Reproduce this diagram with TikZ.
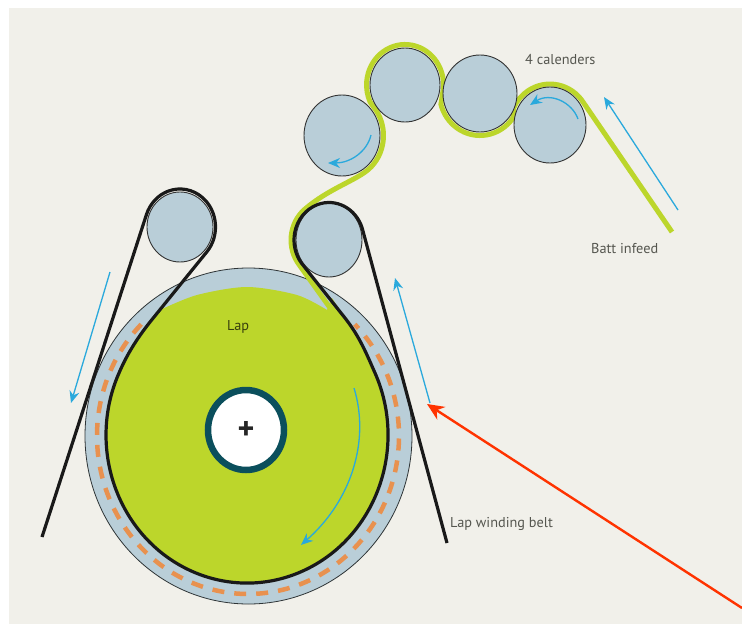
\documentclass[tikz,border=0pt]{standalone}
\usepackage{fontspec}
\setmainfont{PT Sans}
\usetikzlibrary{arrows.meta}
\definecolor{pagecol}{HTML}{F1F0EA}
\definecolor{rollcol}{HTML}{B9CED8}
\definecolor{lapcol}{HTML}{BCD62B}
\definecolor{hubcol}{HTML}{0B4F5C}
\definecolor{bluecol}{HTML}{2AA9DC}
\definecolor{orangecol}{HTML}{E8914F}
\definecolor{redcol}{HTML}{FF3300}
\definecolor{textcol}{HTML}{55564F}
\tikzset{
	roller/.style={fill=rollcol,draw=black!80,line width=0.9pt},
	belt/.style={draw=black!90,line width=3.2pt,line join=round},
	batt/.style={draw=lapcol,line width=5pt,line join=round},
	turn/.style={draw=bluecol,line width=1.3pt,-{Stealth[length=12pt,width=10pt]}},
	lbl/.style={text=textcol,font=\fontsize{14.3}{16}\selectfont,inner sep=0pt}
}
\begin{document}
\begin{tikzpicture}[x=1pt,y=-1pt,>=stealth]
			\useasboundingbox (0,0) rectangle (742,624);
			\fill[white] (0,0) rectangle (742,624);
			\fill[pagecol] (9,8) rectangle (742,624);
			% lap on the ring
			\draw[fill=rollcol,draw=black!75!rollcol,line width=0.8pt] (248.5,436) ellipse[x radius=163.5,y radius=168];
			\fill[lapcol] (345,318) .. controls (360,337) and (367,355) .. (374.8,372.5)
				arc[start angle=-25,end angle=205,x radius=141,y radius=148]
				.. controls (128,352) and (139,336) .. (150,322)
				-- (160,310) -- plot[smooth] coordinates {(160,310) (197,295) (247,287) (297,295) (327,310)} -- (332,298) -- cycle;
			\draw[orangecol,line width=4.5pt,dash pattern=on 12pt off 10pt] plot[smooth,domain=225:-45,samples=80] ({248+151*cos(\x)},{436+158*sin(\x)});
			\draw[line width=6.5pt,draw=hubcol,fill=white] (246,430) ellipse[x radius=38,y radius=40];
			\node[text=black!85,font=\fontsize{32}{32}\selectfont\bfseries,inner sep=0pt] (hub) at (246,430) {+};
			% batt over the calenders
			\draw[batt] (672,232) -- (583.5,102.7)
				arc[start angle=-33,end angle=-155,x radius=40,y radius=41]
				-- (513.2,117.6)
				arc[start angle=35,end angle=165,x radius=40.5,y radius=42]
				-- (443.4,88.5)
				arc[start angle=5,end angle=-205,x radius=38.5,y radius=40.5]
				-- (376,110.3)
				arc[start angle=-35,end angle=50,x radius=41.5,y radius=44]
				.. controls (355,181) and (328,189) .. (304.6,209.4)
				arc[start angle=-130,end angle=-219,x radius=38,y radius=40]
				-- (333,312);
			\draw[roller] (342,135.5) ellipse[x radius=38,y radius=40.5];
			\draw[roller] (405,85) ellipse[x radius=35,y radius=37];
			\draw[roller] (480,93.5) ellipse[x radius=37,y radius=38.5];
			\draw[roller] (550,125) ellipse[x radius=36,y radius=38];
			\draw[roller] (180,227) ellipse[x radius=33,y radius=35];
			\draw[roller] (329,240) ellipse[x radius=33,y radius=37];
			% winding belt
			\draw[belt] (447,543) -- (362.1,227.8)
				arc[start angle=-19,end angle=-219,x radius=35,y radius=37.5]
				-- (345,318) .. controls (360,337) and (367,355) .. (374.8,372.5)
				arc[start angle=-25,end angle=205,x radius=141,y radius=148]
				.. controls (128,352) and (139,336) .. (150,322)
				-- (207.2,251.4)
				arc[start angle=40,end angle=-161,x radius=35.5,y radius=38]
				-- (42,537);
			% turning directions
			\draw[turn] (678,210) -- (604,97);
			\draw[turn] (430,403) -- (395,278);
			\draw[turn] (110,272) -- (71,403);
			\draw[turn] (354,388) .. controls (370,440) and (352,500) .. (301,545);
			\draw[turn] (371,135) .. controls (367,152) and (350,163) .. (328,163);
			\draw[turn] (578,119) .. controls (572,102) and (550,92) .. (530,105);
			\node[lbl,anchor=west] (calenders) at (525,60) {4 calenders};
			\node[lbl,anchor=west] (infeed) at (591,249) {Batt infeed};
			\node[lbl,anchor=west,text=black!50!lapcol!60!black] (lap) at (227,327) {Lap};
			\node[lbl,anchor=west] (beltlabel) at (450,524) {Lap winding belt};
			\draw[draw=redcol,line width=2.4pt,-{Stealth[length=17pt,width=15pt]}] (742,608) -- (427,404);
		\end{tikzpicture}
\end{document}
